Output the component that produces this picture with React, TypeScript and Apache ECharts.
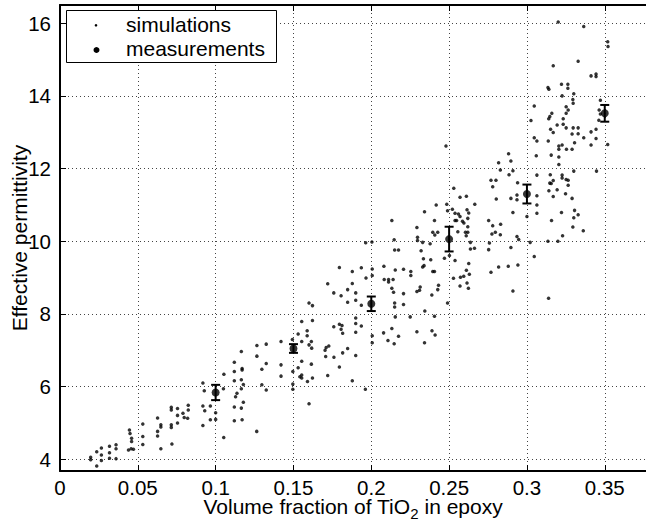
import React, { useEffect, useRef } from 'react';
import * as echarts from 'echarts';

// Simulations, grouped by volume-fraction band: [fraction, permittivity]
const simBand1: number[][] = [
  [0.0197,4.06],[0.0197,3.99],[0.0236,4.21],[0.0236,3.82],[0.0266,4.31],[0.0266,4.12],[0.0266,3.97],
  [0.0318,4.36],[0.0318,4.18],[0.0318,4.03],[0.036,4.40],[0.036,4.29],[0.036,4.02],[0.0446,4.81],
  [0.045,4.71],[0.046,4.58],[0.046,4.49],[0.0457,4.29],[0.044,4.26],[0.0472,4.28],[0.0532,4.97],
  [0.0532,4.63],[0.0532,4.41],[0.0627,5.14],[0.0627,4.77],[0.0627,4.64],[0.0648,4.95],[0.0648,4.89],
  [0.0648,4.29],[0.0715,5.43],[0.0715,5.36],[0.0715,4.95],[0.0715,4.88],[0.0719,4.42],[0.0755,5.40],
  [0.0755,5.21],[0.0755,5.00],[0.079,5.27],[0.0798,5.15],[0.082,5.13],[0.0824,5.49],[0.0824,5.36],
  [0.0918,6.10],[0.0918,4.93],[0.0927,5.89],[0.0918,5.47],[0.093,5.34],[0.0966,5.47],[0.0966,5.09],
  [0.1,5.28]
];
const simBand2: number[][] = [
  [0.1,5.1],[0.1052,4.6],[0.105,5.94],[0.1053,6.34],[0.112,6.67],[0.112,6.42],[0.112,6.16],
  [0.1137,5.82],[0.1128,5.72],[0.112,5.44],[0.112,5.06],[0.1165,6.97],[0.117,6.5],[0.117,6.46],
  [0.1165,6.19],[0.1178,6.06],[0.1165,5.94],[0.1178,5.57],[0.1165,5.41],[0.117,5.09],[0.1265,7.13],
  [0.1265,6.84],[0.1264,4.77],[0.1297,6.48],[0.1297,6.05],[0.1325,7.17],[0.1325,6.64],[0.1325,5.91],
  [0.142,7.24],[0.142,6.6],[0.142,6.29],[0.1493,7.3],[0.1496,6.42],[0.1496,6.07],[0.1496,5.93]
];
const simBand3: number[][] = [
  [0.153,7.45],[0.1553,7.79],[0.1553,7.24],[0.1588,7.54],[0.1588,7.4],[0.16,8.3],[0.1622,8.23],
  [0.1622,7.82],[0.1615,7.24],[0.16,7.15],[0.1617,7.06],[0.1553,6.7],[0.1615,6.62],[0.153,6.52],
  [0.1541,6.27],[0.1553,6.32],[0.1553,6.24],[0.1622,6.24],[0.159,6.14],[0.16,5.53],[0.171,7.08],
  [0.1727,7.12],[0.1703,7.0],[0.1707,6.83],[0.172,6.31],[0.172,8.83],[0.1759,8.58],[0.1759,7.65],
  [0.176,6.81],[0.1795,9.28],[0.1806,8.5],[0.1795,7.72],[0.1812,7.68],[0.1806,7.58],[0.1816,7.47],
  [0.1816,6.93],[0.1795,6.54],[0.1848,8.67],[0.1848,8.32],[0.1848,7.05],[0.1878,9.17],[0.1878,8.84],
  [0.1878,6.16],[0.19,8.58],[0.19,8.38],[0.19,7.89],[0.19,7.74],[0.19,7.5],[0.19,6.86],[0.1936,9.27],
  [0.1964,9.96],[0.1966,8.99],[0.1936,8.24],[0.1936,7.67],[0.1962,5.93]
];
const simBand4: number[][] = [
  [0.2004,9.98],[0.2006,9.24],[0.2006,9.06],[0.2006,7.4],[0.2006,7.21],[0.2079,7.48],[0.2081,9.31],
  [0.2083,8.95],[0.2111,8.95],[0.2111,8.88],[0.2107,7.27],[0.2132,10.57],[0.2132,8.71],[0.2132,7.6],
  [0.214,8.95],[0.2143,8.6],[0.2147,10.04],[0.2147,7.18],[0.215,9.76],[0.215,8.3],[0.215,8.19],
  [0.2154,9.21],[0.2154,7.92],[0.2175,9.76],[0.2175,7.39],[0.2207,9.23],[0.2207,8.56],[0.2207,8.26],
  [0.225,7.92],[0.2254,9.17],[0.2254,9.06],[0.2293,10.38],[0.2297,10.11],[0.2297,10.02],[0.2293,8.62],
  [0.231,8.65],[0.2314,8.74],[0.2293,7.51],[0.232,9.74],[0.233,9.97],[0.2335,9.52],[0.2339,9.33],
  [0.233,9.29],[0.2342,10.81],[0.2344,8.08],[0.2342,7.21],[0.2378,9.93],[0.2382,9.49],[0.2389,8.52],
  [0.239,7.54],[0.2395,10.25],[0.2395,9.17],[0.2406,9.17],[0.2406,10.57],[0.2406,7.94],[0.2408,10.17],
  [0.241,7.42],[0.2417,11.0],[0.2427,10.25],[0.2427,8.67],[0.2432,8.79],[0.247,9.53],[0.2485,11.02],
  [0.249,10.84],[0.249,8.3],[0.248,12.62]
];
const simBand5: number[][] = [
  [0.253,11.46],[0.257,11.21],[0.2611,11.24],[0.2665,11.02],[0.2521,10.88],[0.2538,10.77],[0.256,10.75],
  [0.2615,10.87],[0.2626,10.78],[0.2538,10.57],[0.2548,10.57],[0.257,10.68],[0.2586,10.55],[0.2595,10.5],
  [0.262,10.63],[0.262,10.4],[0.262,10.25],[0.2605,10.25],[0.261,10.15],[0.2556,10.26],[0.2502,9.61],
  [0.2538,9.47],[0.2528,8.98],[0.257,8.77],[0.2573,9.01],[0.2594,9.04],[0.263,9.09],[0.2611,9.2],
  [0.2615,8.85],[0.2624,8.71],[0.2626,9.39],[0.2637,9.97],[0.2637,9.79],[0.2663,9.81],[0.2754,10.57],
  [0.278,10.43],[0.2831,10.47],[0.2775,10.2],[0.2797,10.25],[0.2829,10.18],[0.2936,10.13],[0.2947,10.05],
  [0.2759,9.95],[0.2754,9.77],[0.2897,9.83],[0.2769,9.15],[0.2818,9.29],[0.288,9.31],[0.2942,9.35],
  [0.291,8.63],[0.2882,12.41],[0.2818,12.16],[0.2897,12.21],[0.2829,11.96],[0.291,11.94],[0.2885,11.83],
  [0.2769,11.68],[0.2801,11.68],[0.278,11.5],[0.294,11.61],[0.2803,11.16],[0.2897,11.18],[0.2936,11.27],
  [0.2936,11.14],[0.291,10.79]
];
const simBand6: number[][] = [
  [0.3047,13.72],[0.3026,13.32],[0.3047,12.85],[0.3064,12.76],[0.306,12.35],[0.3064,11.82],[0.3064,11.25],
  [0.3064,11.0],[0.3064,10.77],[0.3,10.68],[0.3021,9.97],[0.3135,10.0],[0.3199,10.0],[0.3229,10.15],
  [0.3047,9.58],[0.3139,8.43],[0.3362,10.29],
  [0.3201,16.03],[0.3365,15.91],[0.3519,15.49],[0.3521,15.36],[0.3169,14.83],[0.3329,14.95],[0.3412,14.55],
  [0.3444,14.6],[0.3444,14.53],[0.3135,14.23],[0.3141,14.18],[0.3222,14.32],[0.3263,14.32],[0.3263,14.21],
  [0.3226,14.0],[0.3301,14.06],[0.3295,13.9],[0.3297,13.8],[0.3472,13.88],[0.3252,13.7],[0.3265,13.61],
  [0.3252,13.52],[0.316,13.52],[0.3147,13.43],[0.314,13.37],[0.3233,13.37],[0.3194,13.2],[0.3233,13.22],
  [0.3252,13.12],[0.3297,13.12],[0.3152,13.08],[0.3169,12.99],[0.3329,13.12],[0.329,12.95],[0.3329,12.96],
  [0.3365,12.85],[0.3412,13.01],[0.3444,13.08],[0.3444,12.83],[0.3137,12.76],[0.3205,12.62],[0.3226,12.65],
  [0.3205,12.53],[0.3254,12.53],[0.329,12.53],[0.3306,12.71],[0.3412,12.65],[0.3519,12.66],[0.3156,12.37],
  [0.3205,12.32],[0.3205,12.11],[0.3301,11.93],[0.3447,11.93],[0.315,11.83],[0.3169,11.67],[0.3147,11.6],
  [0.3156,11.59],[0.3226,11.82],[0.3226,11.74],[0.3252,11.7],[0.3265,11.68],[0.3265,11.54],[0.3141,11.39],
  [0.3194,11.42],[0.3169,11.23],[0.3248,11.31],[0.329,11.18],[0.3329,10.73],[0.3306,10.85],[0.3222,10.79],
  [0.3301,10.65],[0.3158,10.57],[0.3295,10.39],[0.3464,13.61],[0.3472,13.5],[0.3462,13.33]
];

// Measurements with error bars
const measX = [0.1, 0.15, 0.2, 0.25, 0.3, 0.35];
const measY = [5.84, 7.05, 8.28, 10.06, 11.3, 13.52];
const measErr = [0.21, 0.12, 0.2, 0.34, 0.26, 0.23];

const legendLabels = ['simulations', 'measurements'];

const FONT = 'Liberation Sans, Arial, Helvetica, sans-serif';

export default function App() {
  const ref = useRef<HTMLDivElement>(null);
  useEffect(() => {
    if (!ref.current) return;
    const chart = echarts.init(ref.current, null, { renderer: 'svg' });
    const simulations = [...simBand1, ...simBand2, ...simBand3, ...simBand4, ...simBand5, ...simBand6];
    const meas = measX.map((x, i) => [x, measY[i], measErr[i]]);
    const gridLine = { show: true, lineStyle: { color: '#444', type: [1, 3], width: 1 } };
    const axisLine = { show: true, onZero: false, lineStyle: { color: '#000', width: 2 } };
    const axisTick = { show: true, inside: true, length: 6, lineStyle: { color: '#000', width: 1 } };
    const legendText = { fill: '#000', fontFamily: FONT, fontSize: 21, verticalAlign: 'middle', align: 'left' };
    chart.setOption({
      animation: false,
      backgroundColor: '#fff',
      grid: { left: 60, right: 0, top: 5, bottom: 53, containLabel: false, outerBoundsMode: 'none' },
      xAxis: [
        {
          type: 'value', min: 0, max: 0.3765, interval: 0.05, position: 'bottom',
          axisLine, axisTick,
          axisLabel: { color: '#000', fontFamily: FONT, fontSize: 20.5, lineHeight: 16, margin: 8, showMaxLabel: false },
          splitLine: gridLine,
          name: '{m|Volume fraction of TiO}{sub|2}{m| in epoxy}',
          nameLocation: 'middle', nameGap: 24.5, nameMoveOverlap: false,
          nameTextStyle: {
            color: '#000', fontFamily: FONT, fontSize: 21,
            rich: {
              m: { color: '#000', fontFamily: FONT, fontSize: 21, lineHeight: 21, verticalAlign: 'top' },
              sub: { color: '#000', fontFamily: FONT, fontSize: 15, lineHeight: 15, padding: [10, 0, 0, 0], verticalAlign: 'top' }
            }
          }
        },
        {
          type: 'value', min: 0, max: 0.3765, interval: 0.05, position: 'top',
          axisLine, axisTick, axisLabel: { show: false }, splitLine: { show: false }
        }
      ],
      yAxis: [
        {
          type: 'value', min: 3.68, max: 16.5, splitNumber: 6, position: 'left',
          axisLine, axisTick,
          axisLabel: { color: '#000', fontFamily: FONT, fontSize: 20.5, margin: 9, showMinLabel: false, showMaxLabel: false },
          splitLine: gridLine,
          name: 'Effective permittivity', nameLocation: 'middle', nameGap: 30, nameRotate: 90,
          nameMoveOverlap: false,
          nameTextStyle: { color: '#000', fontFamily: FONT, fontSize: 21 }
        }
      ],
      graphic: [
        {
          type: 'group', z: 10,
          children: [
            {
              type: 'rect', z: 10,
              shape: { x: 66.5, y: 10.5, width: 210, height: 52 },
              style: { fill: '#fff', stroke: '#000', lineWidth: 1 }
            },
            { type: 'circle', z: 11, shape: { cx: 96, cy: 25.3, r: 1.3 }, style: { fill: '#000' } },
            { type: 'circle', z: 11, shape: { cx: 96.5, cy: 50, r: 3 }, style: { fill: '#000' } },
            { type: 'text', z: 11, x: 126, y: 24.6, style: { ...legendText, text: legendLabels[0] } },
            { type: 'text', z: 11, x: 126, y: 48.8, style: { ...legendText, text: legendLabels[1] } }
          ]
        }
      ],
      series: [
        {
          name: 'simulations', type: 'scatter', data: simulations,
          symbol: 'circle', symbolSize: 3.5, itemStyle: { color: '#000' }, z: 2
        },
        {
          name: 'errorbars', type: 'custom', data: meas, encode: { x: 0, y: 1 }, z: 3,
          renderItem: (params: any, api: any) => {
            const x = api.value(0), y = api.value(1), e = api.value(2);
            const top = api.coord([x, y + e]);
            const bot = api.coord([x, y - e]);
            const hw = 4.5;
            const st = { stroke: '#000', lineWidth: 2 };
            return {
              type: 'group',
              children: [
                { type: 'line', shape: { x1: top[0], y1: top[1], x2: bot[0], y2: bot[1] }, style: st },
                { type: 'line', shape: { x1: top[0] - hw, y1: top[1], x2: top[0] + hw, y2: top[1] }, style: st },
                { type: 'line', shape: { x1: bot[0] - hw, y1: bot[1], x2: bot[0] + hw, y2: bot[1] }, style: st }
              ]
            };
          }
        },
        {
          name: 'measurements', type: 'scatter', data: meas.map(m => [m[0], m[1]]),
          symbol: 'circle', symbolSize: 8, itemStyle: { color: '#000' }, z: 4
        }
      ]
    });
    return () => chart.dispose();
  }, []);
  return (
    <div
      ref={ref}
      style={{ position: 'fixed', left: 0, top: 0, width: 646, height: 524, background: '#fff' }}
    />
  );
}
